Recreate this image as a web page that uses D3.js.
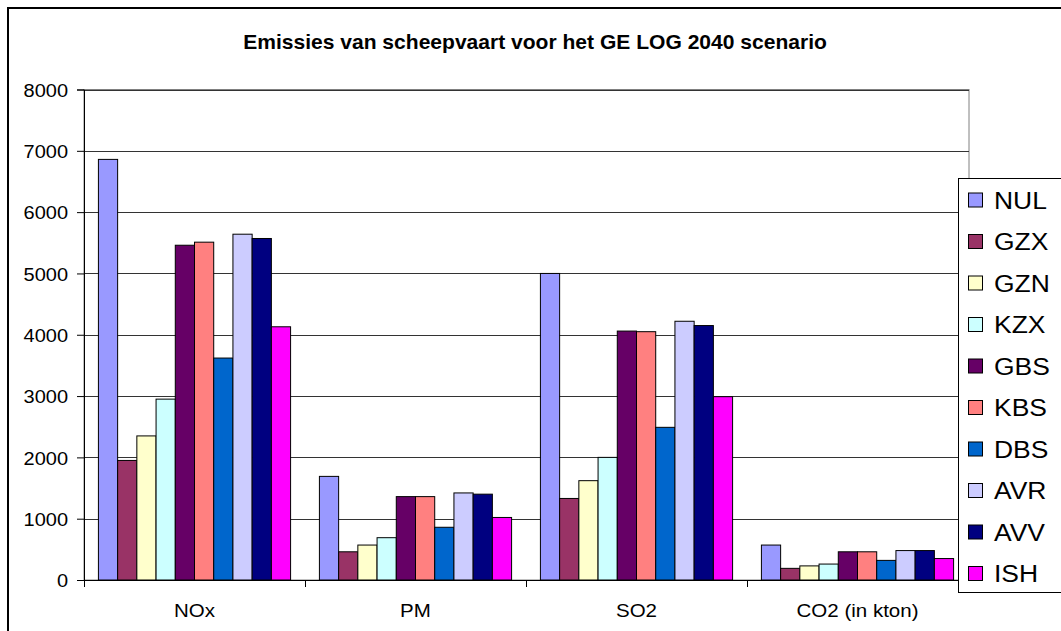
<!DOCTYPE html>
<html>
<head>
<meta charset="utf-8">
<script src="https://cdn.jsdelivr.net/npm/d3@7"></script>
<style>
  html, body { margin: 0; padding: 0; background: #fff; }
  svg { display: block; font-family: "Liberation Sans", Arial, sans-serif; }
  svg text { font-family: "Liberation Sans", Arial, sans-serif; }
</style>
</head>
<body>
<svg id="chart" width="1061" height="631"></svg>
<script>
// Pollutant categories along the x axis
const categories = ["NOx", "PM", "SO2", "CO2 (in kton)"];

// Scenario series (one bar per scenario inside each category)
const series = ["NUL", "GZX", "GZN", "KZX", "GBS", "KBS", "DBS", "AVR", "AVV", "ISH"];

const NUL = [6860, 1690, 5000, 570];
const GZX = [1950, 460, 1330, 190];
const GZN = [2350, 570, 1620, 230];
const KZX = [2950, 690, 2000, 260];
const GBS = [5460, 1360, 4060, 460];
const KBS = [5510, 1360, 4050, 460];
const DBS = [3620, 860, 2490, 320];
const AVR = [5640, 1420, 4220, 480];
const AVV = [5570, 1400, 4150, 480];
const ISH = [4130, 1020, 2990, 350];

const yTicks = [0, 1000, 2000, 3000, 4000, 5000, 6000, 7000, 8000];

const colors = ["#9999FF", "#993366", "#FFFFCC", "#CCFFFF", "#660066",
                "#FF8080", "#0066CC", "#CCCCFF", "#000080", "#FF00FF"];

const values = { NUL, GZX, GZN, KZX, GBS, KBS, DBS, AVR, AVV, ISH };

const svg = d3.select("#chart");
const sx = 1.08; // horizontal glyph stretch of the chart text

// Outer chart frame
svg.append("rect")
  .attr("x", 8).attr("y", 8).attr("width", 1080).attr("height", 640)
  .attr("fill", "#fff").attr("stroke", "#000").attr("stroke-width", 2);

const plot = { left: 84, right: 969, top: 89.5, bottom: 580 };

const y = d3.scaleLinear().domain([0, 8000]).range([plot.bottom, plot.top]);
const x0 = d3.scaleBand().domain(categories).range([plot.left, 968]).paddingInner(0).paddingOuter(0);
const x1 = d3.scaleBand().domain(series).range([0, x0.bandwidth()]).paddingInner(0).paddingOuter(0.75);

// Plot area frame
svg.append("rect")
  .attr("x", plot.left).attr("y", plot.top)
  .attr("width", plot.right - plot.left).attr("height", plot.bottom - plot.top)
  .attr("fill", "#fff").attr("stroke", "#808080").attr("stroke-width", 1);

// Horizontal gridlines
svg.append("g").selectAll("line")
  .data(yTicks.filter(d => d > 0))
  .join("line")
  .attr("x1", plot.left).attr("x2", plot.right)
  .attr("y1", d => Math.round(y(d)) + 0.5).attr("y2", d => Math.round(y(d)) + 0.5)
  .attr("stroke", "#333").attr("stroke-width", 1);

// Bars
const groups = svg.append("g").selectAll("g")
  .data(categories)
  .join("g")
  .attr("transform", d => `translate(${x0(d)},0)`);

groups.selectAll("rect")
  .data((c, ci) => series.map((s, si) => ({ s, si, v: values[s][ci] })))
  .join("rect")
  .attr("x", d => x1(d.s))
  .attr("y", d => y(d.v))
  .attr("width", x1.bandwidth())
  .attr("height", d => y(0) - y(d.v))
  .attr("fill", d => colors[d.si])
  .attr("stroke", "#000")
  .attr("stroke-width", 1);

// Y axis
const yAxis = d3.axisLeft(y).tickValues(yTicks).tickSize(7).tickPadding(9).tickFormat(d3.format("d"));
const gy = svg.append("g").attr("transform", `translate(${plot.left},0)`).call(yAxis);
gy.attr("font-family", null);
gy.select(".domain").attr("stroke", "#000");
gy.selectAll(".tick line").attr("stroke", "#000");
gy.selectAll(".tick text")
  .attr("font-size", 18.5).attr("fill", "#000")
  .attr("dy", "0.36em")
  .each(function () {
    const t = d3.select(this);
    t.attr("transform", `translate(${t.attr("x")},0) scale(${sx},1)`).attr("x", 0);
  });

// X axis
const xAxis = d3.axisBottom(x0).tickSize(0).tickPadding(0).tickFormat("");
const gx = svg.append("g").attr("transform", `translate(0,${plot.bottom})`).call(xAxis);
gx.select(".domain").attr("stroke", "#000").attr("d", `M${plot.left},0.5H${plot.right}`);
const bounds = categories.map(c => x0(c)).concat([x0(categories[3]) + x0.bandwidth()]);
gx.append("g").selectAll("line")
  .data(bounds)
  .join("line")
  .attr("x1", d => Math.round(d) + 0.5).attr("x2", d => Math.round(d) + 0.5)
  .attr("y1", 0).attr("y2", 7)
  .attr("stroke", "#000");

svg.append("g").selectAll("text")
  .data(categories)
  .join("text")
  .attr("transform", d => `translate(${x0(d) + x0.bandwidth() / 2},617) scale(${sx},1)`)
  .attr("text-anchor", "middle")
  .attr("font-size", 19)
  .attr("fill", "#000")
  .text(d => d);

// Title
svg.append("text")
  .attr("transform", `translate(535,49) scale(${sx},1)`)
  .attr("text-anchor", "middle")
  .attr("font-size", 19.5)
  .attr("font-weight", "bold")
  .attr("fill", "#000")
  .text("Emissies van scheepvaart voor het GE LOG 2040 scenario");

// Legend
const legend = svg.append("g");
legend.append("rect")
  .attr("x", 958.5).attr("y", 178.5).attr("width", 130).attr("height", 414)
  .attr("fill", "#fff").attr("stroke", "#000").attr("stroke-width", 1);

const rowY = d3.scalePoint().domain(series).range([200, 573.5]);
const items = legend.selectAll("g.item")
  .data(series)
  .join("g")
  .attr("class", "item")
  .attr("transform", d => `translate(0,${rowY(d)})`);

items.append("rect")
  .attr("x", 968.5).attr("y", -7).attr("width", 14).attr("height", 14)
  .attr("fill", (d, i) => colors[i])
  .attr("stroke", "#000").attr("stroke-width", 1);

items.append("text")
  .attr("transform", `translate(994,8.5) scale(${sx},1)`)
  .attr("font-size", 24.5)
  .attr("fill", "#000")
  .text(d => d);
</script>
</body>
</html>
